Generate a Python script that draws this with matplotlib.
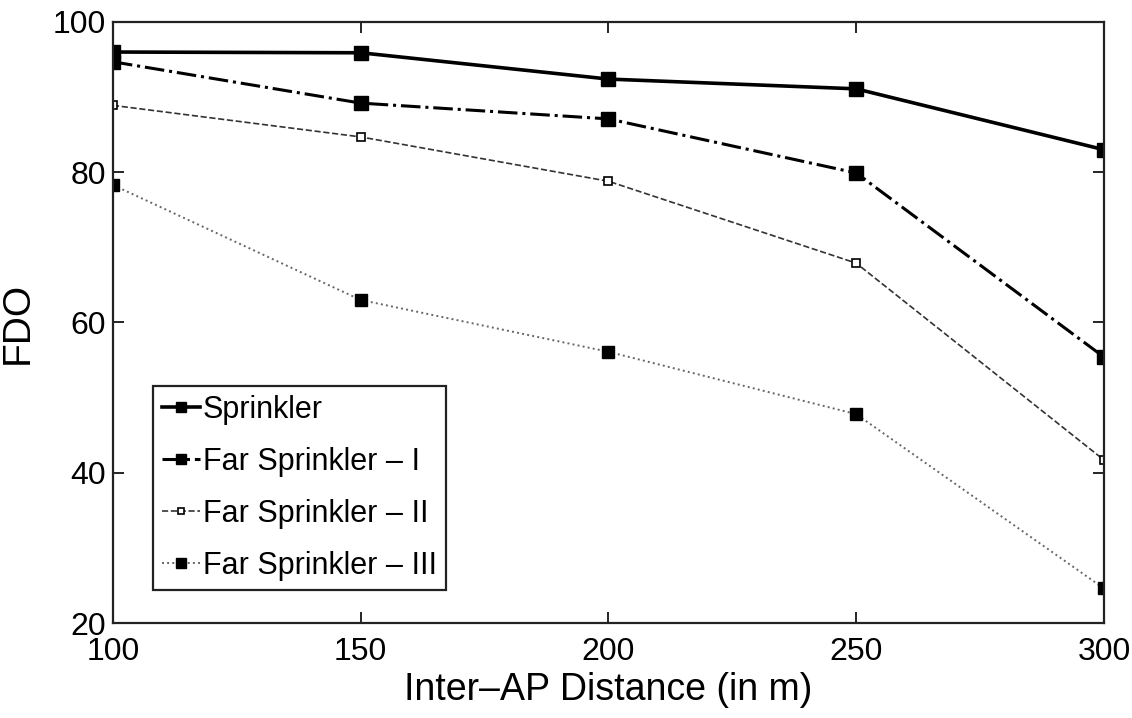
import matplotlib
matplotlib.use('Agg')
import matplotlib.pyplot as plt

# Données
distances = [100, 150, 200, 250, 300]
sprinkler = [96.0, 95.9, 92.4, 91.1, 83.0]
far_1 = [94.7, 89.2, 87.1, 79.9, 55.4]
far_2 = [88.9, 84.7, 78.8, 67.9, 41.7]
far_3 = [78.3, 63.0, 56.1, 47.8, 24.6]

plt.rcParams['font.family'] = ['Liberation Sans', 'DejaVu Sans']

fig = plt.figure(figsize=(11.32, 7.18), dpi=100)
ax = fig.add_axes([0.0998, 0.1323, 0.8754, 0.8371])

ax.plot(distances, sprinkler, color='black', linestyle='-', linewidth=2.6,
        marker='s', markersize=10, label='Sprinkler')
ax.plot(distances, far_1, color='black', linestyle='-.', linewidth=2.2,
        marker='s', markersize=10, label='Far Sprinkler \u2013 I')
ax.plot(distances, far_2, color='#333333', linestyle='--', linewidth=1.2,
        marker='s', markersize=6, markerfacecolor='white', markeredgecolor='black',
        markeredgewidth=1.2, label='Far Sprinkler \u2013 II')
ax.plot(distances, far_3, color='#666666', linestyle=':', linewidth=1.4,
        marker='s', markersize=9, markerfacecolor='black', markeredgecolor='black',
        label='Far Sprinkler \u2013 III')

ax.set_xlim(100, 300)
ax.set_ylim(20, 100)
ax.set_xticks(distances)
ax.set_yticks([20, 40, 60, 80, 100])
ax.tick_params(direction='in', length=8, width=1.2, top=True, right=True,
               labelsize=23)
ax.tick_params(axis='x', pad=10)
ax.tick_params(axis='y', pad=5)
for s in ax.spines.values():
    s.set_linewidth(1.6)
    s.set_color('#222222')

ax.set_xlabel('Inter\u2013AP Distance (in m)', fontsize=27, labelpad=4)
ax.set_ylabel('FDO', fontsize=28, labelpad=12)

leg = ax.legend(loc='lower left', bbox_to_anchor=(0.040, 0.055), borderaxespad=0,
                fontsize=22, handlelength=1.25, handletextpad=0.1,
                labelspacing=0.72, borderpad=0.3, fancybox=False, framealpha=1,
                markerscale=0.75)
leg.get_frame().set_edgecolor('#222222')
leg.get_frame().set_linewidth(1.6)

plt.savefig('out.png', dpi=100)
